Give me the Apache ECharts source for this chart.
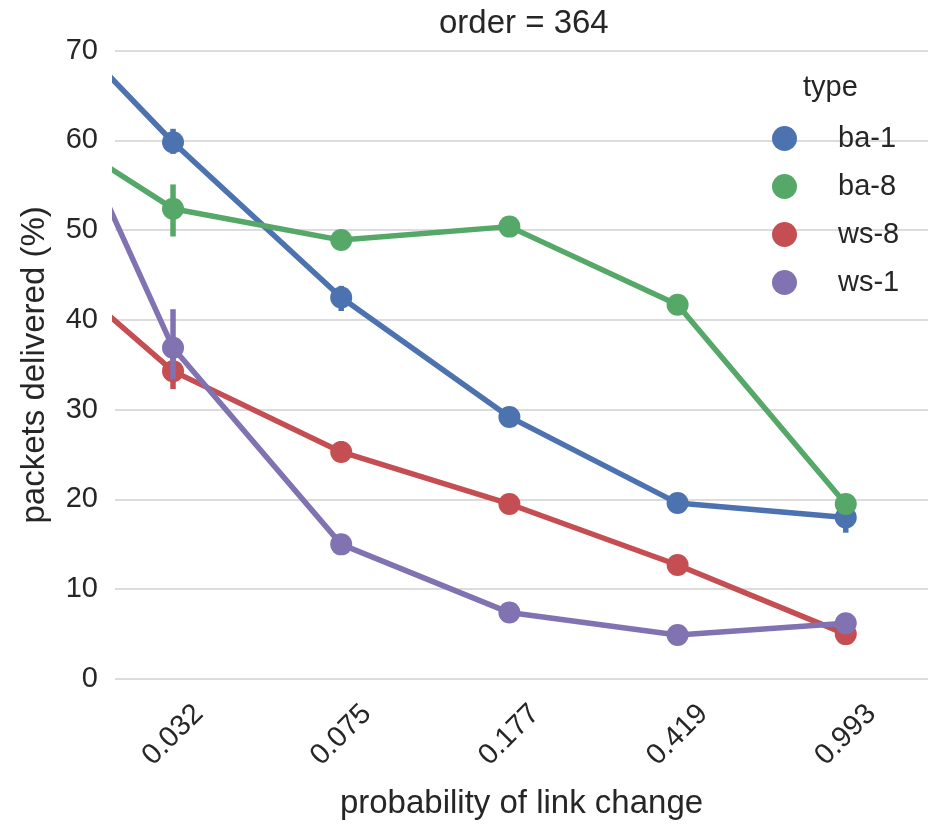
<!DOCTYPE html>
<html>
<head>
<meta charset="utf-8">
<script type="text/javascript" src="https://cdn.jsdelivr.net/npm/echarts@6/dist/echarts.min.js"></script>
<style>
  html, body { margin: 0; padding: 0; background: #fff; }
  #main { width: 932px; height: 825px; }
</style>
</head>
<body>
<div id="main"></div>
<script type="text/javascript">
	// link change probabilities (x categories)
	var probs = ['0.032', '0.075', '0.177', '0.419', '0.993'];
	var types = ['ba-1', 'ba-8', 'ws-8', 'ws-1'];
	var yTicks = [0, 10, 20, 30, 40, 50, 60, 70];

	// mean packets delivered (%)
	var ba1 = [59.8, 42.5, 29.2, 19.6, 18.0];
	var ba8 = [52.4, 48.9, 50.4, 41.7, 19.5];
	var ws8 = [34.3, 25.3, 19.5, 12.7, 5.0];
	var ws1 = [36.9, 15.0, 7.4, 4.9, 6.2];

	// value of the category left of the visible range (only its segment shows)
	var leadIn = [79.3, 64.4, 50.6, 78.2];

	// confidence intervals
	var ba1Lo = [58.5, 41.0, 28.7, 19.1, 16.3];
	var ba1Hi = [61.3, 43.8, 29.7, 20.1, 19.8];
	var ba8Lo = [49.3, 48.4, 49.9, 41.1, 19.0];
	var ba8Hi = [55.1, 49.4, 50.9, 42.3, 20.0];
	var ws8Lo = [32.3, 24.2, 19.0, 12.2, 4.5];
	var ws8Hi = [35.8, 26.5, 20.0, 13.2, 5.5];
	var ws1Lo = [33.4, 14.5, 6.9, 4.4, 5.7];
	var ws1Hi = [41.2, 15.5, 7.9, 5.4, 6.7];

	var colors = ['#4C72B0', '#55A868', '#C44E52', '#8172B2'];
	var means = [ba1, ba8, ws8, ws1];
	var lows = [ba1Lo, ba8Lo, ws8Lo, ws1Lo];
	var highs = [ba1Hi, ba8Hi, ws8Hi, ws1Hi];

	var txt = '#262626';
	var font = '"Liberation Sans", Arial, sans-serif';

	var series = [];
	for (var i = 0; i < types.length; i++) {
		var pts = [[0, leadIn[i]]];
		var bars = [];
		for (var j = 0; j < probs.length; j++) {
			pts.push([j + 1, means[i][j]]);
			bars.push([j + 1, lows[i][j], highs[i][j]]);
		}
		series.push({
			name : types[i],
			type : 'line',
			data : pts,
			color : colors[i],
			symbol : 'circle',
			symbolSize : 22,
			showAllSymbol : true,
			lineStyle : { width : 5.5 },
			clip : true,
			z : 2 + i * 2,
			emphasis : { disabled : true }
		});
		series.push({
			name : types[i] + ' ci',
			type : 'custom',
			data : bars,
			z : 2 + i * 2,
			encode : { x : 0, y : [1, 2] },
			renderItem : (function(c) {
				return function(params, api) {
					var a = api.coord([api.value(0), api.value(1)]);
					var b = api.coord([api.value(0), api.value(2)]);
					return {
						type : 'line',
						shape : { x1 : a[0], y1 : a[1], x2 : b[0], y2 : b[1] },
						style : { stroke : c, lineWidth : 5.5 }
					};
				};
			})(colors[i])
		});
	}

	var myChart = echarts.init(document.getElementById('main'));
	var option = {
		backgroundColor : '#fff',
		animation : false,
		textStyle : { fontFamily : font },
		title : [ {
			text : 'order = 364',
			left : 434,
			top : 2,
			textStyle : { fontSize : 33, fontWeight : 'normal', color : txt, fontFamily : font }
		}, {
			text : 'type',
			left : 798,
			top : 68,
			textStyle : { fontSize : 29, fontWeight : 'normal', color : txt, fontFamily : font }
		} ],
		legend : {
			data : types,
			orient : 'vertical',
			left : 767,
			top : 119,
			icon : 'circle',
			itemWidth : 25,
			itemHeight : 25,
			itemGap : 19,
			selectedMode : false,
			textStyle : {
				fontSize : 29,
				lineHeight : 25,
				color : txt,
				fontFamily : font,
				padding : [0, 0, 0, 36]
			}
		},
		grid : { left : 115, right : 4, top : 50.7, bottom : 145 },
		xAxis : {
			type : 'value',
			min : 0.655,
			max : 5.489,
			name : 'probability of link change',
			nameLocation : 'middle',
			nameGap : 108,
			nameTextStyle : { fontSize : 33, color : txt, fontFamily : font },
			axisLine : { show : false },
			axisTick : { show : false },
			splitLine : { show : false },
			axisLabel : {
				customValues : [1, 2, 3, 4, 5],
				rotate : 45,
				align : 'center',
				verticalAlign : 'middle',
				margin : 56,
				fontSize : 29,
				color : txt,
				fontFamily : font,
				formatter : function(v) {
					return probs[Math.round(v) - 1] || '';
				}
			}
		},
		yAxis : {
			type : 'value',
			min : yTicks[0],
			max : yTicks[yTicks.length - 1],
			interval : 10,
			name : 'packets delivered (%)',
			nameLocation : 'middle',
			nameGap : 64,
			nameTextStyle : { fontSize : 33, color : txt, fontFamily : font },
			axisLine : { show : false },
			axisTick : { show : false },
			axisLabel : { fontSize : 29, color : txt, margin : 17, fontFamily : font },
			splitLine : { lineStyle : { color : '#d0d0d0', width : 1.5 } }
		},
		series : series
	};
	myChart.setOption(option);
</script>
</body>
</html>
